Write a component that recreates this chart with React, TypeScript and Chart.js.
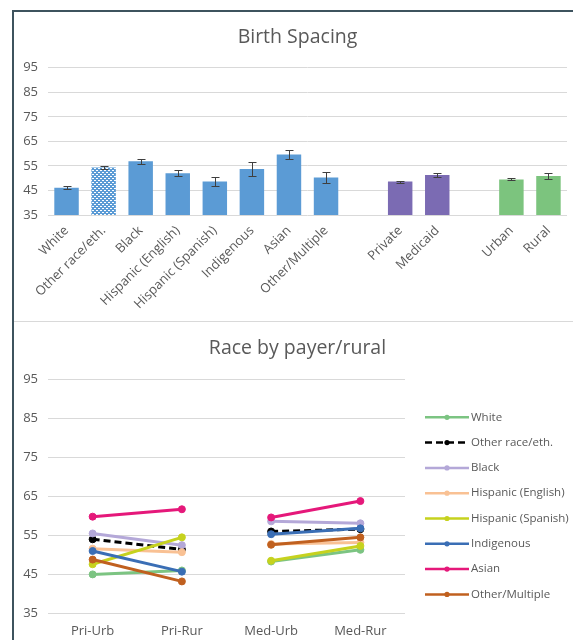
import React, { useEffect, useRef } from 'react';
import { Chart, registerables } from 'chart.js';

Chart.register(...registerables);

const FONT = '"Open Sans", Lato, "DejaVu Sans", sans-serif';
const TEXT = '#595959';
const GRID = '#d9d9d9';

// Birth spacing (months) by group, with error-bar half widths
const spacingCategories = [
  'White', 'Other race/eth.', 'Black', 'Hispanic (English)', 'Hispanic (Spanish)',
  'Indigenous', 'Asian', 'Other/Multiple', '', 'Private', 'Medicaid', '', 'Urban', 'Rural',
];
const spacingGroups = [
  'race', 'race', 'race', 'race', 'race', 'race', 'race', 'race', '', 'payer', 'payer', '', 'area', 'area',
];
const spacingMonths = [46.1, 54.3, 56.9, 52.0, 48.6, 53.7, 59.6, 50.3, null, 48.6, 51.3, null, 49.5, 50.9];
const spacingErrors = [0.7, 0.6, 1.1, 1.3, 1.8, 2.9, 1.7, 2.3, null, 0.4, 0.8, null, 0.4, 1.2];
const patternedCategory = 'Other race/eth.';

// Race by payer / rurality
const payerRuralCategories = ['Pri-Urb', 'Pri-Rur', 'Med-Urb', 'Med-Rur'];
const whiteSeries = [44.9, 45.9, 48.2, 51.2];
const otherRaceSeries = [53.9, 51.3, 55.9, 56.5];
const blackSeries = [55.4, 52.4, 58.5, 58.0];
const hispEnglishSeries = [51.5, 50.6, 52.7, 53.1];
const hispSpanishSeries = [47.5, 54.4, 48.4, 52.2];
const indigenousSeries = [50.9, 45.6, 55.2, 56.7];
const asianSeries = [59.7, 61.6, 59.5, 63.7];
const otherMultipleSeries = [48.7, 43.1, 52.5, 54.4];

const groupColors: Record<string, string> = {
  race: '#5b9bd5',
  payer: '#7b6bb3',
  area: '#7cc47e',
};

const raceLines = [
  { label: 'White', data: whiteSeries, color: '#7cc482' },
  { label: 'Other race/eth.', data: otherRaceSeries, color: '#000000', dash: [7, 4] },
  { label: 'Black', data: blackSeries, color: '#b4a8d8' },
  { label: 'Hispanic (English)', data: hispEnglishSeries, color: '#f9c194' },
  { label: 'Hispanic (Spanish)', data: hispSpanishSeries, color: '#c6d21e' },
  { label: 'Indigenous', data: indigenousSeries, color: '#3a6eb5' },
  { label: 'Asian', data: asianSeries, color: '#e5187a' },
  { label: 'Other/Multiple', data: otherMultipleSeries, color: '#c0601f' },
];

const tickFont = { family: FONT, size: 13 };
const titleFont = { family: FONT, size: 19.5, weight: 'normal' as any };

const errorBarPlugin = {
  id: 'errorBars',
  afterDatasetsDraw(chart: any) {
    const meta = chart.getDatasetMeta(0);
    const y = chart.scales.y;
    const ctx = chart.ctx;
    ctx.save();
    ctx.strokeStyle = '#3f3f3f';
    ctx.lineWidth = 1;
    meta.data.forEach((bar: any, i: number) => {
      const v = spacingMonths[i];
      const e = spacingErrors[i];
      if (v == null || e == null) return;
      const x = Math.round(bar.x) + 0.5;
      const top = Math.round(y.getPixelForValue(v + e)) + 0.5;
      const bot = Math.round(y.getPixelForValue(v - e)) + 0.5;
      ctx.beginPath();
      ctx.moveTo(x, top);
      ctx.lineTo(x, bot);
      ctx.moveTo(x - 4, top);
      ctx.lineTo(x + 4, top);
      ctx.moveTo(x - 4, bot);
      ctx.lineTo(x + 4, bot);
      ctx.stroke();
    });
    ctx.restore();
  },
};

const sideLegendPlugin = {
  id: 'sideLegend',
  afterDraw(chart: any) {
    const { ctx, chartArea } = chart;
    const x0 = chartArea.right + 20;
    const y0 = chartArea.top + 38.3;
    const step = 25.3;
    chart.data.datasets.forEach((ds: any, i: number) => {
      const y = y0 + i * step;
      ctx.save();
      ctx.strokeStyle = ds.borderColor;
      ctx.lineWidth = 2.5;
      ctx.setLineDash(ds.borderDash || []);
      ctx.beginPath();
      ctx.moveTo(x0, y);
      ctx.lineTo(x0 + 44, y);
      ctx.stroke();
      ctx.setLineDash([]);
      ctx.fillStyle = ds.borderColor;
      ctx.beginPath();
      ctx.arc(x0 + 22, y, 2.6, 0, Math.PI * 2);
      ctx.fill();
      ctx.fillStyle = TEXT;
      ctx.font = `11.5px ${FONT}`;
      ctx.textAlign = 'left';
      ctx.textBaseline = 'middle';
      ctx.fillText(ds.label, x0 + 46, y);
      ctx.restore();
    });
  },
};

function dottedFill(ctx: CanvasRenderingContext2D, base: string) {
  const tile = document.createElement('canvas');
  tile.width = 4;
  tile.height = 4;
  const t = tile.getContext('2d')!;
  t.fillStyle = base;
  t.fillRect(0, 0, 4, 4);
  t.fillStyle = '#ffffff';
  t.fillRect(0, 0, 2, 1);
  t.fillRect(2, 2, 2, 1);
  return ctx.createPattern(tile, 'repeat');
}

// left value axis and an empty right gutter, both with fixed widths
function valueAxis() {
  return {
    min: 35,
    max: 95,
    ticks: { stepSize: 10, color: TEXT, font: tickFont, padding: 10 },
    grid: { color: GRID, drawTicks: false },
    border: { display: false },
    afterFit: (scale: any) => {
      scale.width = 34;
    },
  };
}

function rightGutter(width: number) {
  return {
    type: 'linear' as const,
    position: 'right' as const,
    display: true,
    grid: { display: false, drawTicks: false },
    border: { display: false },
    ticks: { display: false },
    afterFit: (scale: any) => {
      scale.width = width;
    },
  };
}

export default function App() {
  const barRef = useRef<HTMLCanvasElement>(null);
  const lineRef = useRef<HTMLCanvasElement>(null);

  useEffect(() => {
    const barCanvas = barRef.current!;
    const lineCanvas = lineRef.current!;
    const pattern = dottedFill(barCanvas.getContext('2d')!, groupColors.race);

    const barColors = spacingCategories.map((c, i) =>
      c === patternedCategory ? pattern : groupColors[spacingGroups[i]] || 'transparent'
    );

    const barChart = new Chart(barCanvas, {
      type: 'bar',
      data: {
        labels: spacingCategories,
        datasets: [
          {
            label: 'Birth spacing',
            data: spacingMonths as any,
            yAxisID: 'y',
            backgroundColor: barColors as any,
            borderWidth: 0,
            categoryPercentage: 1,
            barPercentage: 0.66,
          },
        ],
      },
      options: {
        responsive: false,
        animation: false,
        layout: { padding: 0 },
        plugins: {
          legend: { display: false },
          tooltip: { enabled: false },
          title: {
            display: true,
            text: 'Birth Spacing',
            color: TEXT,
            font: titleFont,
            padding: { top: 13.3, bottom: 19 },
          },
        },
        scales: {
          x: {
            grid: { display: false, drawTicks: false },
            border: { display: false },
            ticks: {
              color: TEXT,
              font: tickFont,
              autoSkip: false,
              minRotation: 45,
              maxRotation: 45,
              padding: 8,
            },
            afterFit: (scale: any) => {
              scale.height = 105;
            },
          },
          y: valueAxis() as any,
          rightGutter: rightGutter(14) as any,
        },
      },
      plugins: [errorBarPlugin],
    });

    const lineChart = new Chart(lineCanvas, {
      type: 'line',
      data: {
        labels: payerRuralCategories,
        datasets: raceLines.map((s, i) => ({
          label: s.label,
          data: s.data,
          yAxisID: 'y',
          borderColor: s.color,
          backgroundColor: s.color,
          borderWidth: 3,
          borderDash: s.dash || [],
          pointRadius: 3.5,
          pointBorderWidth: 1,
          pointBackgroundColor: s.color,
          pointBorderColor: s.color,
          order: raceLines.length - i,
          segment: {
            borderColor: (ctx: any) => (ctx.p0DataIndex === 1 ? 'rgba(0,0,0,0)' : s.color),
          },
        })),
      },
      options: {
        responsive: false,
        animation: false,
        layout: { padding: 0 },
        plugins: {
          legend: { display: false },
          tooltip: { enabled: false },
          title: {
            display: true,
            text: 'Race by payer/rural',
            color: TEXT,
            font: titleFont,
            padding: { top: 14.3, bottom: 19.3 },
          },
        },
        scales: {
          x: {
            offset: true,
            grid: { display: false, drawTicks: false },
            border: { display: false },
            ticks: { color: TEXT, font: tickFont, padding: 10 },
            afterFit: (scale: any) => {
              scale.height = 27;
            },
          },
          y: valueAxis() as any,
          rightGutter: rightGutter(176) as any,
        },
      },
      plugins: [sideLegendPlugin],
    });

    return () => {
      barChart.destroy();
      lineChart.destroy();
    };
  }, []);

  return (
    <div
      style={{
        position: 'absolute',
        left: 0,
        top: 0,
        width: 573,
        height: 640,
        overflow: 'hidden',
        background: '#ffffff',
      }}
    >
      <div
        style={{
          position: 'absolute',
          left: 12,
          top: 10,
          width: 620,
          height: 700,
          borderLeft: '2px solid #3e535e',
          borderTop: '2px solid #3e535e',
        }}
      />
      <canvas
        ref={barRef}
        width={567}
        height={308}
        style={{ position: 'absolute', left: 14, top: 12, width: 567, height: 308, display: 'block' }}
      />
      <div style={{ position: 'absolute', left: 14, top: 321, width: 620, height: 1, background: GRID }} />
      <canvas
        ref={lineRef}
        width={567}
        height={318}
        style={{ position: 'absolute', left: 14, top: 322, width: 567, height: 318, display: 'block' }}
      />
    </div>
  );
}
